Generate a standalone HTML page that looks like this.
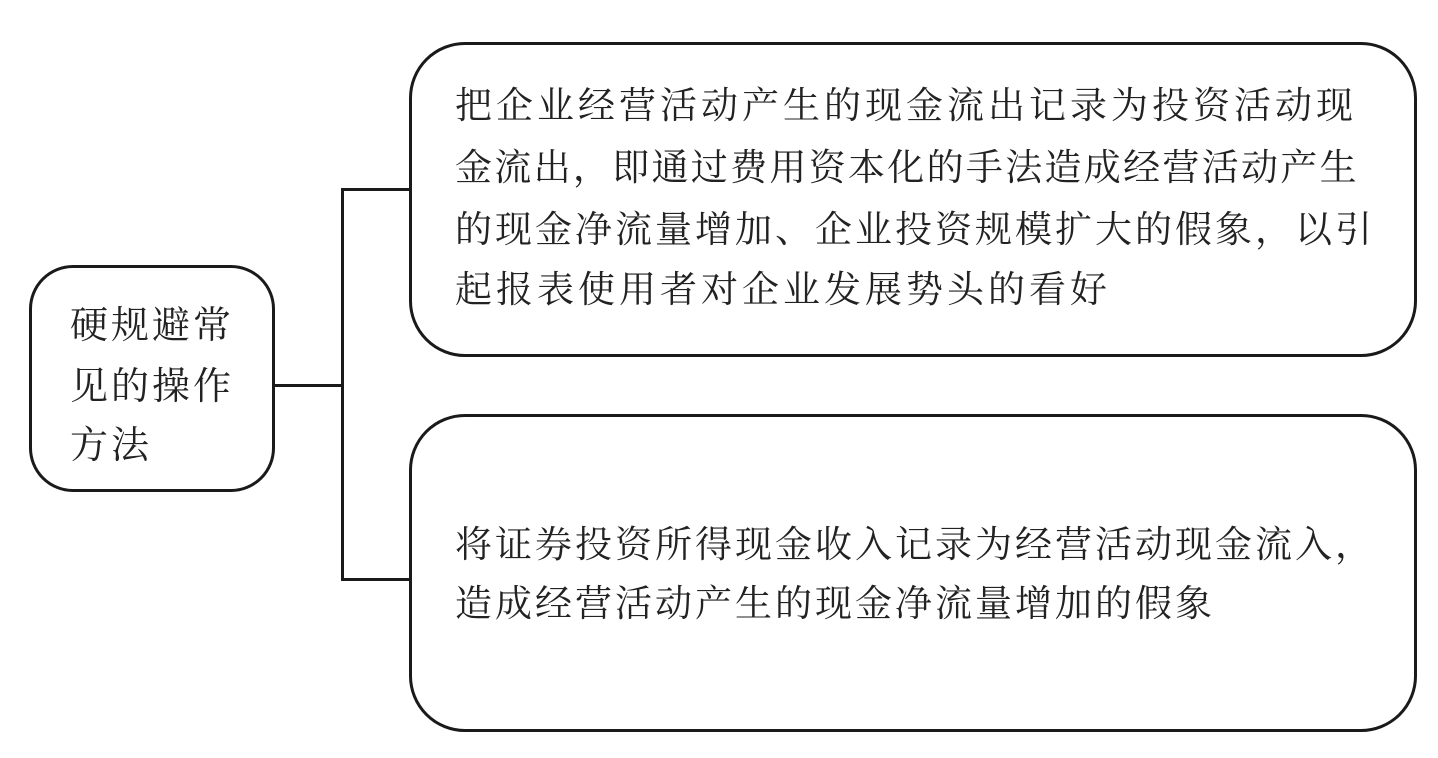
<!DOCTYPE html>
<html><head><meta charset="utf-8"><style>
body{margin:0;width:1438px;height:758px;background:#fff;position:relative;overflow:hidden;font-family:"Noto Serif CJK SC","Liberation Serif","Noto Sans CJK SC",serif;color:#222}
.b{position:absolute;border:3px solid #1a1a1a;box-sizing:border-box;background:#fff}
.l{position:absolute;background:#1a1a1a}
.t{position:absolute;white-space:nowrap;font-size:37px;letter-spacing:4px;line-height:40px}
</style></head><body>
<div class="b" style="left:29px;top:265px;width:246px;height:227px;border-radius:44px"></div>
<div class="b" style="left:409px;top:42px;width:1008px;height:315px;border-radius:56px"></div>
<div class="b" style="left:409px;top:414px;width:1008px;height:318px;border-radius:56px"></div>
<div class="l" style="left:274px;top:384px;width:70px;height:3px"></div>
<div class="l" style="left:341px;top:188px;width:3px;height:393px"></div>
<div class="l" style="left:341px;top:188px;width:70px;height:3px"></div>
<div class="l" style="left:341px;top:578px;width:70px;height:3px"></div>
<div class="t" style="left:70px;top:302px;font-size:38px;letter-spacing:3px">硬规避常</div>
<div class="t" style="left:70px;top:363px;font-size:38px;letter-spacing:3px">见的操作</div>
<div class="t" style="left:70px;top:422px;font-size:38px;letter-spacing:3px">方法</div>
<div class="t" style="left:455px;top:82px">把企业经营活动产生的现金流出记录为投资活动现</div>
<div class="t" style="left:455px;top:144px;letter-spacing:2.3px">金流出，即通过费用资本化的手法造成经营活动产生</div>
<div class="t" style="left:455px;top:206px;letter-spacing:3px">的现金净流量增加、企业投资规模扩大的假象，以引</div>
<div class="t" style="left:455px;top:266px">起报表使用者对企业发展势头的看好</div>
<div class="t" style="left:455px;top:521px;letter-spacing:3px">将证券投资所得现金收入记录为经营活动现金流入，</div>
<div class="t" style="left:455px;top:580px;letter-spacing:3px">造成经营活动产生的现金净流量增加的假象</div>
</body></html>
